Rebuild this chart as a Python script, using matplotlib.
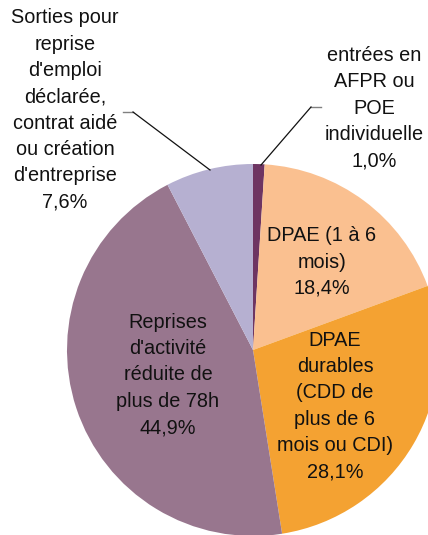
import matplotlib

matplotlib.use("Agg")
import matplotlib.pyplot as plt

labels = [
    "entrées en\nAFPR ou\nPOE\nindividuelle",
    "DPAE (1 à 6\nmois)",
    "DPAE\ndurables\n(CDD de\nplus de 6\nmois ou CDI)",
    "Reprises\nd'activité\nréduite de\nplus de 78h",
    "Sorties pour\nreprise\nd'emploi\ndéclarée,\ncontrat aidé\nou création\nd'entreprise",
]
shares = [1.0, 18.4, 28.1, 44.9, 7.6]
colors = ["#6E3562", "#FAC090", "#F4A232", "#98768E", "#B6B0D1"]

W, H = 428, 535
plt.rcParams["font.family"] = ["Liberation Sans", "DejaVu Sans"]

fig = plt.figure(figsize=(W / 100, H / 100), dpi=100)
ax = fig.add_axes([0, 0, 1, 1])

cx, cy, r = 253, H - 350, 186
ax.pie(shares, colors=colors, startangle=90, counterclock=False,
       center=(cx, cy), radius=r, frame=True,
       wedgeprops=dict(linewidth=0))
ax.set_xlim(0, W)
ax.set_ylim(0, H)
ax.set_aspect("equal")
ax.axis("off")


def pct(v):
    return f"{v:.1f}%".replace(".", ",")


# label positions in pixel coordinates (x, y from top)
label_pos = [(374, 108), (322, 262), (335, 406), (168, 375), (65, 110)]
for text, v, (x, y) in zip(labels, shares, label_pos):
    ax.text(x, H - y, text + "\n" + pct(v), ha="center", va="center",
            fontsize=14.3, linespacing=1.49, color="#111111")

# leader lines
ax.plot([123, 133], [H - 112, H - 112], color="#808080", lw=1)
ax.plot([133, 210], [H - 112, H - 170], color="#111111", lw=0.9)
ax.plot([321, 311], [H - 107, H - 107], color="#808080", lw=1)
ax.plot([311, 261], [H - 107, H - 165], color="#111111", lw=0.9)

fig.savefig("out.png", dpi=100)
